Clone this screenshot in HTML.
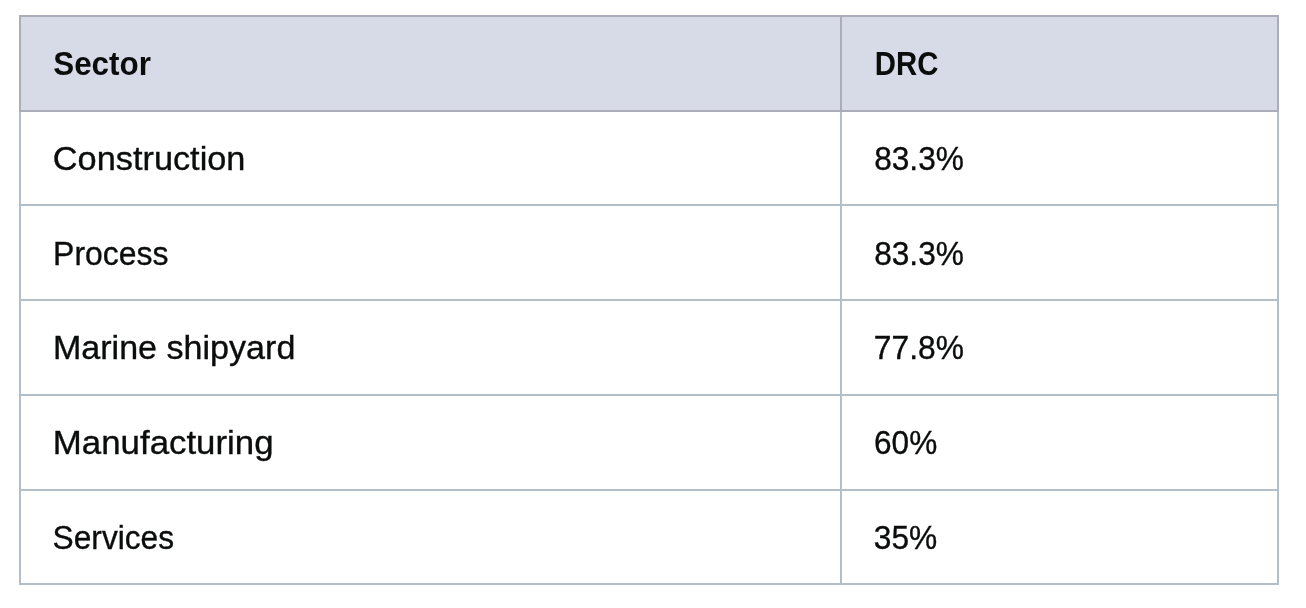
<!DOCTYPE html>
<html lang="en">
<head>
<meta charset="utf-8">
<title>DRC by sector</title>
<style>
  html, body { margin: 0; padding: 0; background: #ffffff; }
  body { width: 1306px; height: 608px; overflow: hidden; position: relative;
         font-family: "Liberation Sans", "DejaVu Sans", sans-serif; color: #0b0c0c; }
  table { position: absolute; left: 19px; top: 15px; border-collapse: separate; border-spacing: 0;
          table-layout: fixed; width: 1260px; }
  col.c1 { width: 823px; } col.c2 { width: 437px; }
  th, td { box-sizing: border-box; padding: 27px 0 0 33px; text-align: left; vertical-align: top;
           font-size: 33px; line-height: 40px; white-space: nowrap; overflow: hidden;
           border: 0 solid #b2bfc6; border-right-width: 2px; border-bottom-width: 2px; }
  th { background: #d7dbe7; border-color: #abaeba; border-top-width: 2px; font-weight: bold; height: 97px; }
  th:first-child, td:first-child { border-left-width: 2px; }
  td { background: #fff; font-weight: normal; -webkit-text-stroke: 0.35px #0b0c0c; }
  tr.h95 td { height: 95px; } tr.h94 td { height: 94px; }
  tr.dn td { padding-top: 28px; }
  span { display: inline-block; transform-origin: 0 50%; }
</style>
</head>
<body>
<table>
  <colgroup><col class="c1"><col class="c2"></colgroup>
  <thead>
    <tr><th><span style="transform:translateX(-0.74px) scaleX(0.9504)">Sector</span></th><th><span style="transform:translateX(-0.17px) scaleX(0.8884)">DRC</span></th></tr>
  </thead>
  <tbody>
    <tr class="h94"><td><span style="transform:translateX(-1.17px) scaleX(1.0397)">Construction</span></td><td><span style="transform:translateX(-0.84px) scaleX(0.9593)">83.3%</span></td></tr>
    <tr class="h95 dn"><td><span style="transform:translateX(-0.91px) scaleX(0.9679)">Process</span></td><td><span style="transform:translateX(-0.84px) scaleX(0.9593)">83.3%</span></td></tr>
    <tr class="h95"><td><span style="transform:translateX(-1.09px) scaleX(1.0326)">Marine shipyard</span></td><td><span style="transform:translateX(-1.13px) scaleX(0.9624)">77.8%</span></td></tr>
    <tr class="h95"><td><span style="transform:translateX(-1.15px) scaleX(1.0553)">Manufacturing</span></td><td><span style="transform:translateX(-0.92px) scaleX(0.9556)">60%</span></td></tr>
    <tr class="h94"><td><span style="transform:translateX(-1.42px) scaleX(0.9603)">Services</span></td><td><span style="transform:translateX(-1.24px) scaleX(0.9606)">35%</span></td></tr>
  </tbody>
</table>
</body>
</html>
